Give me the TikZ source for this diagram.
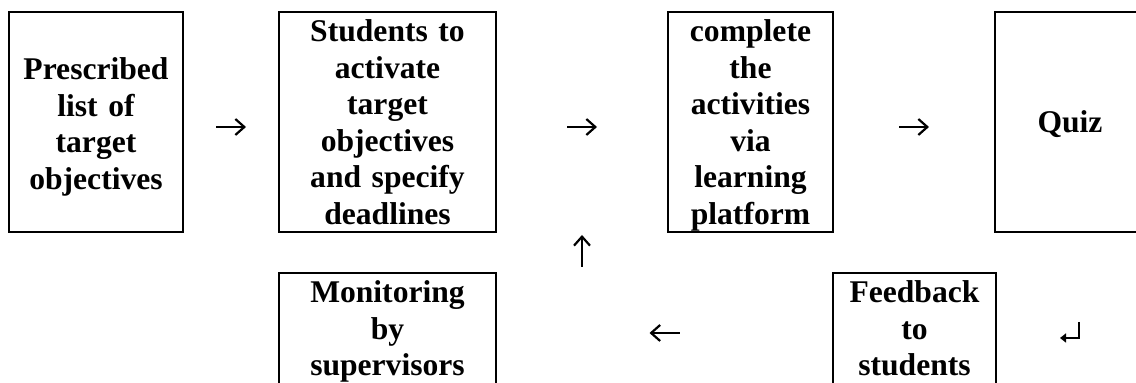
\documentclass[tikz,border=0pt]{standalone}
\usepackage{fontspec}
\setmainfont{Liberation Serif}
\usepackage{tikz}
\usetikzlibrary{positioning,calc,arrows.meta}
\def\BoxGap{20.5pt}
\def\ArrLen{7.5pt}

\begin{document}
\begin{tikzpicture}[
		box/.style={draw,line width=0.9pt,inner sep=0pt,outer sep=0pt,align=center,
			font=\fontsize{15.8}{18.25}\selectfont\bfseries,text height=15pt,text depth=95pt},
		arr/.style={line width=1.1pt,-{Straight Barb[length=4.5pt,width=8pt,line width=1.1pt]}},
		ret/.style={line width=1pt,-{Triangle[length=3pt,width=4.5pt]}}]
			\path[use as bounding box,clip] (0,0) rectangle (568pt,-191.5pt);
			% top row
			\node[box,anchor=north west,text width=87pt,text height=34pt,text depth=76pt] (pre) at (4.5pt,-6pt) {Prescribed\\list of\\target\\objectives};
			\node[box,right=48pt of pre,text width=108.5pt] (stu) {Students to\\activate\\target\\objectives\\and specify\\deadlines};
			\node[box,right=86pt of stu,text width=82.5pt] (com) {complete\\the\\activities\\via\\learning\\platform};
			\node[box,right=81pt of com,text width=75pt,text height=60.5pt,text depth=49.5pt] (qz) {Quiz};
			% bottom row
			\node[box,below=\BoxGap of stu,text width=108.5pt] (mon) {Monitoring\\by\\supervisors};
			\node[box,below right=\BoxGap and 0pt of com.south east,text width=81.5pt] (fb) {Feedback\\to\\students};
			% 
			\coordinate (a12s) at ($(pre.east)!0.5!(stu.west)+(-\ArrLen,-2.5pt)$);
			\coordinate (a12e) at ($(pre.east)!0.5!(stu.west)+(\ArrLen,-2.5pt)$);
			\coordinate (a23s) at ($(stu.east)!0.5!(com.west)+(-\ArrLen,-2.5pt)$);
			\coordinate (a23e) at ($(stu.east)!0.5!(com.west)+(\ArrLen,-2.5pt)$);
			\coordinate (a34s) at ($(com.east)!0.5!(qz.west)+(-\ArrLen,-2.5pt)$);
			\coordinate (a34e) at ($(com.east)!0.5!(qz.west)+(\ArrLen,-2.5pt)$);
			% 
			\coordinate (ups) at ($(stu.south east)!0.5!(com.south west)+(0,-17.5pt)$);
			\coordinate (upe) at ($(stu.south east)!0.5!(com.south west)+(0,-1.5pt)$);
			\coordinate (bks) at ($(mon.north east)!0.5!(fb.north west)+(\ArrLen,-30pt)$);
			\coordinate (bke) at ($(mon.north east)!0.5!(fb.north west)+(-\ArrLen,-30pt)$);
			% HOWTO: the return mark sits under the middle of the quiz box
			\coordinate (rt) at ($(qz.south)+(4.5pt,-45pt)$);
			\coordinate (rc) at ($(rt)+(0,-8pt)$);
			\coordinate (re) at ($(rc)+(-9.5pt,0)$);
			% 
			\draw[arr] (a12s) -- (a12e);
			\draw[arr] (a23s) -- (a23e);
			\draw[arr] (a34s) -- (a34e);
			\draw[arr] (ups) -- (upe);
			\draw[arr] (bks) -- (bke);
			\draw[ret] (rt) -- (rc) -- (re);
		\end{tikzpicture}
\end{document}
